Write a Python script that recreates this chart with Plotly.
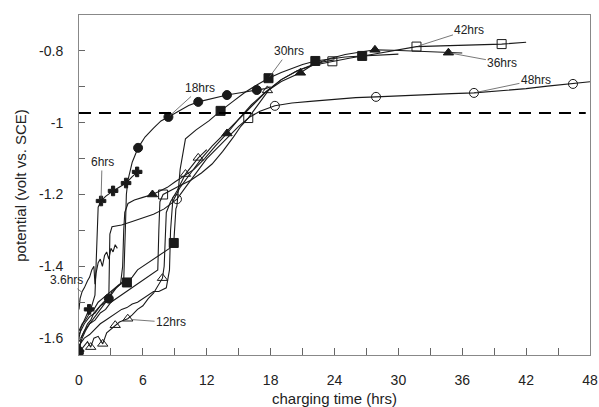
import plotly.graph_objects as go

# ---------------- data ----------------
t_36 = [0, 0.1, 0.3, 0.5, 0.8, 1.0, 1.2, 1.4, 1.5, 1.6, 1.8, 2.0, 2.2, 2.4, 2.6, 2.8, 3.0, 3.2, 3.4, 3.6]
v_36 = [-1.52, -1.49, -1.47, -1.46, -1.44, -1.43, -1.41, -1.40, -1.45, -1.42, -1.39, -1.38, -1.40, -1.37, -1.36, -1.38, -1.35, -1.36, -1.34, -1.35]

t_6 = [0, 0.2, 0.5, 0.8, 0.95, 1.1, 1.3, 1.5, 1.6, 1.7, 1.8, 2.07, 2.5, 3.2, 3.8, 4.42, 5.0, 5.46, 5.6]
v_6 = [-1.60, -1.57, -1.55, -1.53, -1.52, -1.52, -1.50, -1.48, -1.40, -1.28, -1.235, -1.218, -1.205, -1.19, -1.18, -1.168, -1.15, -1.137, -1.135]
mt_6 = [0.95, 2.07, 3.2, 4.42, 5.46]
mv_6 = [-1.52, -1.218, -1.19, -1.168, -1.137]

t_12 = [0, 0.4, 0.8, 1.1, 1.4, 1.8, 2.23, 2.6, 3.0, 3.4, 3.8, 4.2, 4.58, 5.0, 5.5, 6.0, 6.5, 7.0, 7.5, 7.84, 8.0, 8.1, 8.2, 8.6, 9.2, 10.0, 10.6, 11.2, 12.0]
v_12 = [-1.64, -1.625, -1.61, -1.625, -1.60, -1.595, -1.616, -1.585, -1.575, -1.564, -1.555, -1.55, -1.546, -1.535, -1.52, -1.51, -1.49, -1.475, -1.45, -1.433, -1.40, -1.30, -1.25, -1.22, -1.19, -1.143, -1.12, -1.098, -1.075]
mt_12 = [1.1, 2.23, 3.4, 4.58, 7.84, 10.0, 11.2]
mv_12 = [-1.625, -1.616, -1.564, -1.546, -1.433, -1.143, -1.098]

t_18 = [0, 0.2, 0.5, 0.8, 1.1, 1.4, 1.7, 2.0, 2.3, 2.8, 3.1, 3.5, 3.9, 4.2, 4.35, 4.45, 4.6, 5.0, 5.55, 6.2, 7.0, 7.7, 8.4, 9.5, 10.3, 11.2, 12.5, 13.9, 15.3, 16.7, 17.5, 18.0]
v_18 = [-1.64, -1.60, -1.58, -1.56, -1.55, -1.53, -1.52, -1.51, -1.50, -1.49, -1.47, -1.46, -1.45, -1.44, -1.30, -1.20, -1.16, -1.11, -1.07, -1.04, -1.015, -0.995, -0.984, -0.965, -0.952, -0.942, -0.932, -0.923, -0.916, -0.909, -0.905, -0.90]
mt_18 = [0, 2.8, 5.55, 8.4, 11.2, 13.9, 16.7]
mv_18 = [-1.64, -1.49, -1.07, -0.984, -0.942, -0.923, -0.909]

t_24 = [0, 0.5, 1, 1.5, 2, 2.5, 3, 3.5, 4, 4.5, 5, 5.5, 6, 6.5, 7, 7.5, 8.2, 8.5, 8.6, 8.8, 9.5, 10.5, 11.5, 12.5, 13.5, 14.5, 15.5, 16.5, 17.7, 19, 20.5, 22, 23, 24]
v_24 = [-1.62, -1.60, -1.59, -1.575, -1.56, -1.55, -1.54, -1.53, -1.52, -1.515, -1.505, -1.50, -1.49, -1.48, -1.47, -1.47, -1.46, -1.41, -1.30, -1.22, -1.18, -1.14, -1.10, -1.065, -1.035, -1.005, -0.975, -0.945, -0.91, -0.88, -0.855, -0.838, -0.83, -0.825]
mt_24 = [17.7]
mv_24 = [-0.91]

t_30 = [0, 0.3, 0.6, 1.0, 1.4, 1.8, 2.2, 2.6, 3.0, 3.4, 3.8, 4.5, 5.0, 5.5, 6.0, 6.5, 7.0, 7.5, 8.0, 8.5, 8.9, 9.0, 9.1, 9.2, 9.5, 10.0, 11.0, 12.2, 13.3, 14.5, 15.6, 16.7, 17.8, 19.0, 20.0, 21.0, 22.2, 23.5, 25.0, 26.6, 28.0, 29.0, 30.0]
v_30 = [-1.58, -1.56, -1.55, -1.53, -1.52, -1.50, -1.49, -1.48, -1.47, -1.46, -1.45, -1.445, -1.43, -1.41, -1.40, -1.39, -1.38, -1.37, -1.36, -1.35, -1.335, -1.30, -1.24, -1.232, -1.13, -1.045, -1.02, -0.995, -0.967, -0.94, -0.915, -0.895, -0.876, -0.86, -0.848, -0.838, -0.828, -0.822, -0.817, -0.814, -0.812, -0.81, -0.809]
mt_30 = [4.5, 8.9, 13.3, 17.8, 22.2, 26.6]
mv_30 = [-1.445, -1.335, -0.967, -0.876, -0.828, -0.814]

t_36h = [0, 0.3, 0.6, 1.0, 1.5, 2.0, 2.5, 3.0, 3.5, 3.9, 4.1, 4.2, 4.3, 4.6, 5.2, 6.0, 6.9, 7.6, 8.3, 9.0, 9.8, 10.8, 11.8, 12.8, 13.9, 15.0, 16.2, 17.5, 19.0, 20.8, 22.0, 23.5, 25.0, 26.5, 27.8, 29.5, 31.0, 32.5, 34.7, 36.0]
v_36h = [-1.63, -1.60, -1.58, -1.56, -1.54, -1.52, -1.50, -1.48, -1.46, -1.45, -1.40, -1.30, -1.25, -1.225, -1.215, -1.208, -1.20, -1.19, -1.18, -1.165, -1.15, -1.13, -1.10, -1.065, -1.03, -0.99, -0.95, -0.915, -0.885, -0.861, -0.838, -0.822, -0.81, -0.802, -0.797, -0.798, -0.80, -0.802, -0.805, -0.806]
mt_36h = [0, 6.9, 13.9, 20.8, 27.8, 34.7]
mv_36h = [-1.63, -1.20, -1.03, -0.861, -0.797, -0.805]

t_42 = [0, 0.5, 1.0, 1.5, 2.0, 2.5, 3.0, 3.5, 4.0, 4.5, 5.0, 5.5, 6.0, 6.5, 7.0, 7.4, 7.5, 7.6, 7.9, 8.5, 9.5, 10.5, 11.5, 12.5, 13.5, 14.5, 15.2, 15.9, 16.8, 17.8, 19.0, 20.5, 22.0, 23.8, 25.5, 27.5, 29.5, 31.7, 34.0, 36.5, 39.7, 42.0]
v_42 = [-1.61, -1.58, -1.56, -1.55, -1.53, -1.52, -1.50, -1.49, -1.48, -1.47, -1.46, -1.45, -1.44, -1.43, -1.42, -1.41, -1.30, -1.22, -1.20, -1.19, -1.175, -1.16, -1.14, -1.115, -1.08, -1.04, -1.01, -0.987, -0.95, -0.91, -0.88, -0.855, -0.84, -0.829, -0.82, -0.81, -0.80, -0.788, -0.786, -0.784, -0.781, -0.776]
mt_42 = [7.9, 15.9, 23.8, 31.7, 39.7]
mv_42 = [-1.20, -0.987, -0.829, -0.788, -0.781]

t_48 = [0, 0.5, 1.0, 1.5, 2.0, 2.5, 2.8, 2.85, 2.9, 3.1, 4.0, 5.0, 6.0, 7.0, 8.0, 9.2, 10.0, 11.0, 12.0, 13.0, 14.0, 15.0, 16.0, 17.0, 18.4, 20.0, 22.0, 24.0, 26.0, 27.9, 30.0, 32.5, 35.0, 37.1, 39.5, 42.0, 44.0, 46.4, 48.0]
v_48 = [-1.59, -1.56, -1.54, -1.53, -1.51, -1.50, -1.49, -1.40, -1.31, -1.29, -1.285, -1.275, -1.265, -1.255, -1.24, -1.213, -1.18, -1.14, -1.10, -1.07, -1.04, -1.01, -0.985, -0.968, -0.953, -0.945, -0.94, -0.935, -0.93, -0.928, -0.925, -0.922, -0.919, -0.917, -0.912, -0.905, -0.898, -0.892, -0.886]
mt_48 = [9.2, 18.4, 27.9, 37.1, 46.4]
mv_48 = [-1.213, -0.953, -0.928, -0.917, -0.892]

dash_t = [0, 47.6]
dash_v = [-0.973, -0.973]

x_ticks = [0, 6, 12, 18, 24, 30, 36, 42, 48]
x_minor = [3, 9, 15, 21, 27, 33, 39, 45]
y_ticks = [-1.6, -1.4, -1.2, -1.0, -0.8]
y_ticktext = ["-1.6", "-1.4", "-1.2", "-1", "-0.8"]
y_minor = [-1.5, -1.3, -1.1, -0.9, -0.7]

x_title = "charging time (hrs)"
y_title = "potential (volt vs. SCE)"

# labels: (text, tip x, tip y, dx px, dy px)
labels = [
    ("3.6hrs", 0.4, -1.475, -17, -13),
    ("6hrs", 2.07, -1.218, 1, -39),
    ("12hrs", 4.8, -1.548, 41, 3),
    ("18hrs", 8.4, -0.984, 32, -29),
    ("30hrs", 17.8, -0.876, 20, -27),
    ("36hrs", 34.7, -0.805, 54, 10),
    ("42hrs", 31.7, -0.788, 53, -17),
    ("48hrs", 37.1, -0.917, 62, -13),
]

# ---------------- figure ----------------
LC = "#1a1a1a"
FONT = "Liberation Sans, Arial"
fig = go.Figure()

series = [
    (t_36, v_36, [], [], None),
    (t_6, v_6, mt_6, mv_6, "cross"),
    (t_12, v_12, mt_12, mv_12, "triangle-up-open"),
    (t_24, v_24, mt_24, mv_24, "triangle-up-open"),
    (t_18, v_18, mt_18, mv_18, "circle"),
    (t_30, v_30, mt_30, mv_30, "square"),
    (t_36h, v_36h, mt_36h, mv_36h, "triangle-up"),
    (t_42, v_42, mt_42, mv_42, "square-open"),
    (t_48, v_48, mt_48, mv_48, "circle-open"),
]

for tx, vy, mx, my, sym in series:
    fig.add_trace(go.Scatter(x=tx, y=vy, mode="lines",
                             line=dict(color=LC, width=1.1),
                             showlegend=False, hoverinfo="skip"))
for tx, vy, mx, my, sym in series:
    if not mx:
        continue
    size = 8 if sym == "cross" else 9
    fig.add_trace(go.Scatter(x=mx, y=my, mode="markers",
                             marker=dict(symbol=sym, size=size, color=LC,
                                         line=dict(color=LC, width=1)),
                             showlegend=False, hoverinfo="skip"))

fig.add_trace(go.Scatter(x=dash_t, y=dash_v, mode="lines",
                         line=dict(color="black", width=2.2, dash="12px,8px"),
                         showlegend=False, hoverinfo="skip"))

for txt, x, y, dx, dy in labels:
    fig.add_annotation(x=x, y=y, ax=dx, ay=dy, text=txt, showarrow=True,
                       arrowhead=0, arrowwidth=0.8, arrowcolor="#555",
                       standoff=2,
                       font=dict(family=FONT, size=12, color="#222"))

# axis titles as paper annotations
fig.add_annotation(x=0.5, y=-0.127, xref="paper", yref="paper", text=x_title,
                   showarrow=False, xanchor="center", yanchor="middle",
                   font=dict(family=FONT, size=15, color="#222"))
fig.add_annotation(x=-0.116, y=0.5, xref="paper", yref="paper", text=y_title,
                   showarrow=False, xanchor="center", yanchor="middle", textangle=-90,
                   font=dict(family=FONT, size=15, color="#222"))

axis_common = dict(
    showline=True, linecolor="#888", linewidth=1, mirror=True,
    ticks="inside", tickcolor="#666", tickwidth=1,
    showgrid=False, zeroline=False, automargin=False,
    ticklabeloverflow="allow",
    tickfont=dict(family=FONT, size=14, color="#222"),
)

fig.update_xaxes(range=[0, 48], tickvals=x_ticks, ticklen=7,
                 ticklabelstandoff=12,
                 minor=dict(tickvals=x_minor, ticks="inside", ticklen=7, tickcolor="#666"),
                 **axis_common)
fig.update_yaxes(range=[-1.647, -0.70], tickvals=y_ticks, ticktext=y_ticktext, ticklen=6,
                 ticklabelstandoff=12,
                 minor=dict(tickvals=y_minor, ticks="inside", ticklen=6, tickcolor="#666"),
                 **axis_common)

fig.update_layout(width=599, height=407,
                  margin=dict(l=79, r=9, t=15, b=52),
                  plot_bgcolor="white", paper_bgcolor="white")

# remove the page's default body margin so the figure fills the window exactly
fig.write_html("out.html",
               config={"displayModeBar": False},
               post_script="document.body.style.margin='0';document.body.style.overflow='hidden';")
